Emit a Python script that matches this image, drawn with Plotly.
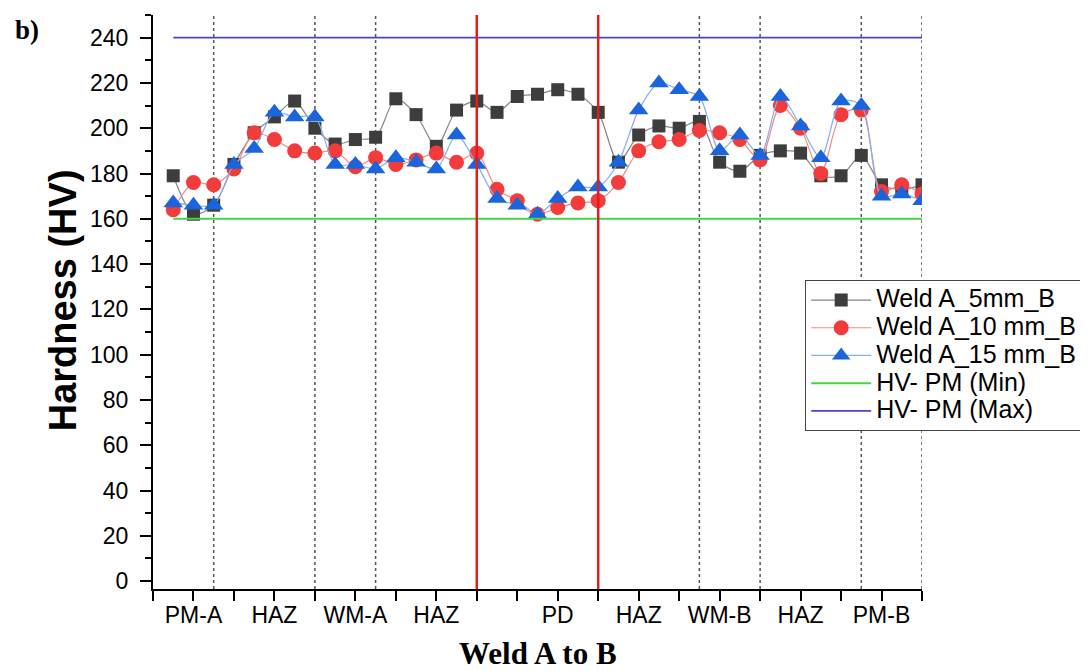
import plotly.graph_objects as go

# ---------------- data ----------------
positions = list(range(1, 39))

weld_5mm = [179, 162, 166, 184, 198, 205, 212, 200, 193, 195, 196, 213, 206, 192, 208, 212,
            207, 214, 215, 217, 215, 207, 185, 197, 201, 200, 203, 185, 181, 188, 190, 189,
            179, 179, 188, 175, 173, 175]
weld_10mm = [164, 176, 175, 182, 198, 195, 190, 189, 190, 183, 187, 184, 186, 189, 185, 189,
             173, 168, 162, 165, 167, 168, 176, 190, 194, 195, 199, 198, 195, 186, 210, 200,
             180, 206, 208, 172, 175, 171]
weld_15mm = [167, 166, 166, 184, 191, 207, 205, 205, 184, 184, 182, 187, 185, 182, 197, 184,
             169, 166, 162, 169, 174, 174, 185, 208, 220, 217, 214, 190, 197, 188, 214, 201,
             187, 212, 210, 170, 171, 168]

hv_min = 160
hv_max = 240

series_names = ["Weld A_5mm_B", "Weld A_10 mm_B", "Weld A_15 mm_B", "HV- PM (Min)", "HV- PM (Max)"]
region_labels = ["PM-A", "HAZ", "WM-A", "HAZ", "PD", "HAZ", "WM-B", "HAZ", "PM-B"]
region_label_pos = [2, 6, 10, 14, 20, 24, 28, 32, 36]
x_tick_vals = list(range(0, 39, 2))
boundary_dotted = [3, 8, 11, 27, 30, 35, 38]
boundary_red = [16, 22]
y_tick_vals = list(range(0, 241, 20))

# ---------------- figure ----------------
SANS = "Liberation Sans, Arial, sans-serif"
SERIF = "Liberation Serif, Times New Roman, serif"


def leg(name):
    return '<span style="font-size:25px">' + name + '</span>'


fig = go.Figure()

fig.add_trace(go.Scatter(
    x=positions, y=weld_5mm, name=leg(series_names[0]), mode="lines+markers",
    line=dict(color="#858585", width=1.2, shape="spline", smoothing=0.8),
    marker=dict(symbol="square", size=13, color="#3d3d3d")))
fig.add_trace(go.Scatter(
    x=positions, y=weld_10mm, name=leg(series_names[1]), mode="lines+markers",
    line=dict(color="#f08a8a", width=1.2, shape="spline", smoothing=0.8),
    marker=dict(symbol="circle", size=15, color="#f23b3b")))
fig.add_trace(go.Scatter(
    x=positions, y=weld_15mm, name=leg(series_names[2]), mode="lines+markers",
    line=dict(color="#86aee8", width=1.2, shape="spline", smoothing=0.8),
    marker=dict(symbol="triangle-up", size=17, color="#1a64dc")))
fig.add_trace(go.Scatter(
    x=[positions[0], positions[-1]], y=[hv_min, hv_min], name=leg(series_names[3]), mode="lines",
    line=dict(color="#45d645", width=2)))
fig.add_trace(go.Scatter(
    x=[positions[0], positions[-1]], y=[hv_max, hv_max], name=leg(series_names[4]), mode="lines",
    line=dict(color="#4a46c4", width=1.8)))

shapes = []
for xv in boundary_dotted:
    shapes.append(dict(type="line", xref="x", yref="paper", x0=xv, x1=xv, y0=0, y1=1,
                       line=dict(color="#555555", width=1.5, dash="dot"), layer="below"))
for xv in boundary_red:
    shapes.append(dict(type="line", xref="x", yref="paper", x0=xv, x1=xv, y0=0, y1=1,
                       line=dict(color="#e01e1e", width=2.5), layer="above"))

tick_text = []
for v in x_tick_vals:
    tick_text.append(region_labels[region_label_pos.index(v)] if v in region_label_pos else "")

# page body has an 8px margin, so the figure is 8px smaller and offset
fig.update_layout(
    width=1080, height=663,
    margin=dict(l=145, r=165, t=7, b=82),
    paper_bgcolor="white", plot_bgcolor="white",
    showlegend=True,
    shapes=shapes,
    legend=dict(x=0.847, y=0.538, xanchor="left", yanchor="top",
                bgcolor="white", bordercolor="#444444", borderwidth=1,
                font=dict(family=SANS, size=19, color="black"),
                itemwidth=60, tracegroupgap=0),
    xaxis=dict(range=[0, 38], tickmode="array", tickvals=x_tick_vals, ticktext=tick_text,
               ticks="outside", ticklen=10, tickwidth=1.5, tickcolor="black",
               showline=True, linecolor="black", linewidth=2, showgrid=False, zeroline=False,
               tickfont=dict(family=SANS, size=23, color="black"), ticklabelstandoff=-6),
    yaxis=dict(range=[-3.5, 250], tickmode="array", tickvals=y_tick_vals,
               ticks="outside", ticklen=11, tickwidth=1.5, tickcolor="black",
               minor=dict(ticks="outside", ticklen=6, tickwidth=1.5, tickcolor="black", dtick=10, tick0=0),
               showline=True, linecolor="black", linewidth=2, showgrid=False, zeroline=False,
               tickfont=dict(family=SANS, size=23, color="black"), ticklabelstandoff=7),
    annotations=[
        dict(text="<b>Hardness (HV)</b>", xref="paper", yref="paper", x=-0.117, y=0.503,
             textangle=-90, showarrow=False, xanchor="center", yanchor="middle",
             font=dict(family=SANS, size=38, color="black")),
        dict(text="<b>Weld A to B</b>", xref="paper", yref="paper", x=0.5, y=-0.112,
             showarrow=False, xanchor="center", yanchor="middle",
             font=dict(family=SERIF, size=31, color="black")),
        dict(text="<b>b)</b>", xref="paper", yref="paper", x=-0.164, y=0.974,
             showarrow=False, xanchor="center", yanchor="middle",
             font=dict(family=SERIF, size=27, color="black")),
    ],
)

fig.write_html("out.html")
